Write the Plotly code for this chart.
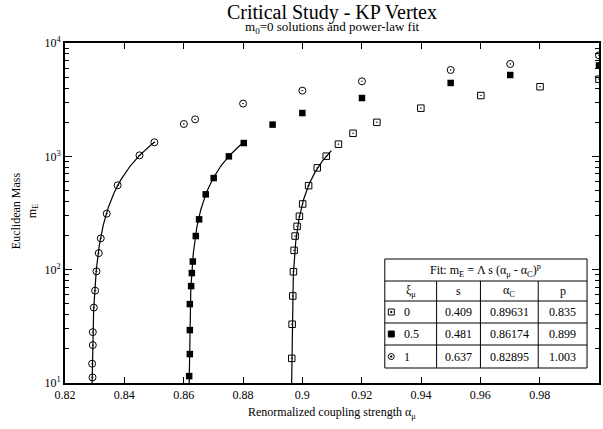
import numpy as np
import plotly.graph_objects as go

# ---------------- data ----------------
xi_labels = ["0", "0.5", "1"]

alpha_xi0 = [0.89643, 0.89656, 0.89677, 0.89700, 0.89723, 0.89757, 0.89824, 0.89901,
             0.90011, 0.90212, 0.90503, 0.90805, 0.91217, 0.91709, 0.92512, 0.93995,
             0.96017, 0.98013, 1.0]
mass_xi0 = [16.5, 33, 58.6, 95.9, 148, 198, 241, 296, 380, 551, 791, 1003,
            1280, 1597, 1995, 2660, 3440, 4110, 4790]

alpha_xi05 = [0.86185, 0.86208, 0.86208, 0.86208, 0.86252, 0.86275, 0.86309, 0.86409,
              0.86520, 0.86744, 0.87012, 0.87524, 0.88026, 0.88997, 0.90001, 0.92010,
              0.95000, 0.97008, 1.0]
mass_xi05 = [11.5, 18.0, 29.3, 49.7, 71.6, 93.3, 118, 198, 278, 462, 643, 1000,
             1310, 1905, 2410, 3270, 4440, 5220, 6350]

alpha_xi1 = [0.82927, 0.82914, 0.82937, 0.82937, 0.82971, 0.83014, 0.83061, 0.83138,
             0.83205, 0.83406, 0.83774, 0.84511, 0.85013, 0.86007, 0.86386, 0.88003,
             0.90001, 0.92010, 0.95000, 0.97008, 1.0]
mass_xi1 = [11.2, 14.8, 21.6, 28.1, 46.3, 65.3, 96.6, 140, 189, 312, 555, 1020,
            1330, 1930, 2120, 2920, 3800, 4590, 5780, 6530, 7780]

# power-law fit parameters (from the table): m_E = Lambda * s * (alpha - alpha_C)^p
Lambda = 1.0e5
fit_s = [0.409, 0.481, 0.637]
fit_alphaC = [0.89631, 0.86174, 0.82895]
fit_p = [0.835, 0.899, 1.003]
fit_alpha_end = [0.9098, 0.8803, 0.8502]

x_tick_vals = [0.82, 0.84, 0.86, 0.88, 0.90, 0.92, 0.94, 0.96, 0.98]
x_tick_text = ["0.82", "0.84", "0.86", "0.88", "0.9", "0.92", "0.94", "0.96", "0.98"]
y_tick_vals = [10, 100, 1000, 10000]
y_tick_text = ["10<sup>1</sup>", "10<sup>2</sup>", "10<sup>3</sup>", "10<sup>4</sup>"]

# ---------------- layout constants ----------------
W, H = 603, 429
L, R, T, B = 65, 2, 43, 46
PW, PH = W - L - R, H - T - B
FONT = "Liberation Serif"


def px_x(px):
    return (px - L) / PW


def px_y(py):
    return (H - B - py) / PH


fig = go.Figure()

# fit curves
for s, ac, p, aend in zip(fit_s, fit_alphaC, fit_p, fit_alpha_end):
    d_min = (8.0 / (Lambda * s)) ** (1.0 / p)
    d = np.geomspace(d_min, aend - ac, 300)
    a = ac + d
    m = Lambda * s * d ** p
    fig.add_trace(go.Scatter(x=a, y=m, mode="lines",
                             line=dict(color="black", width=1.2),
                             showlegend=False, hoverinfo="skip"))

MS = 6.5
fig.add_trace(go.Scatter(x=alpha_xi0, y=mass_xi0, mode="markers",
                         marker=dict(symbol="square-open-dot", size=MS, color="black",
                                     line=dict(color="black", width=1)),
                         showlegend=False))
fig.add_trace(go.Scatter(x=alpha_xi05, y=mass_xi05, mode="markers",
                         marker=dict(symbol="square", size=MS, color="black",
                                     line=dict(color="black", width=0)),
                         showlegend=False))
fig.add_trace(go.Scatter(x=alpha_xi1, y=mass_xi1, mode="markers",
                         marker=dict(symbol="circle-open-dot", size=MS + 0.5, color="black",
                                     line=dict(color="black", width=1)),
                         showlegend=False))

# ---------------- table (legend) ----------------
cols = [386, 438, 482, 540, 589]
rows = [259, 281, 301, 323, 345, 368]
shapes = []
shapes.append(dict(type="rect", xref="paper", yref="paper",
                   x0=px_x(cols[0]), x1=px_x(cols[-1]), y0=px_y(rows[-1]), y1=px_y(rows[0]),
                   fillcolor="white", line=dict(color="black", width=1), layer="above"))
for r in rows[1:-1]:
    shapes.append(dict(type="line", xref="paper", yref="paper",
                       x0=px_x(cols[0]), x1=px_x(cols[-1]), y0=px_y(r), y1=px_y(r),
                       line=dict(color="black", width=1), layer="above"))
for c in cols[1:-1]:
    shapes.append(dict(type="line", xref="paper", yref="paper",
                       x0=px_x(c), x1=px_x(c), y0=px_y(rows[-1]), y1=px_y(rows[1]),
                       line=dict(color="black", width=1), layer="above"))

annotations = []


def cell_text(txt, cx, cy, size=12, xanchor="center"):
    annotations.append(dict(text=txt, x=px_x(cx), y=px_y(cy), xref="paper", yref="paper",
                            showarrow=False, xanchor=xanchor, yanchor="middle",
                            font=dict(family=FONT, size=size, color="black")))


cell_text("Fit: m<sub>E</sub> = Λ s (α<sub>μ</sub> - α<sub>C</sub>)<sup>p</sup>",
          (cols[0] + cols[-1]) / 2, (rows[0] + rows[1]) / 2)
headers = ["ξ<sub>μ</sub>", "s", "α<sub>C</sub>", "p"]
for i, h in enumerate(headers):
    cell_text(h, (cols[i] + cols[i + 1]) / 2, (rows[1] + rows[2]) / 2)

table_rows = [
    (xi_labels[0], fit_s[0], fit_alphaC[0], fit_p[0]),
    (xi_labels[1], fit_s[1], fit_alphaC[1], fit_p[1]),
    (xi_labels[2], fit_s[2], fit_alphaC[2], fit_p[2]),
]
for k, (xl, s, ac, p) in enumerate(table_rows):
    cy = (rows[k + 2] + rows[k + 3]) / 2
    cell_text(xl, cols[0] + 17, cy, xanchor="left")
    cell_text(f"{s:.3f}", (cols[1] + cols[2]) / 2, cy)
    cell_text(f"{ac:.5f}", (cols[2] + cols[3]) / 2, cy)
    cell_text(f"{p:.3f}", (cols[3] + cols[4]) / 2, cy)
    mx, hs = cols[0] + 6.5, 3
    if k == 0:
        shapes.append(dict(type="rect", xref="paper", yref="paper",
                           x0=px_x(mx - hs), x1=px_x(mx + hs), y0=px_y(cy + hs), y1=px_y(cy - hs),
                           line=dict(color="black", width=1), fillcolor="white", layer="above"))
        shapes.append(dict(type="rect", xref="paper", yref="paper",
                           x0=px_x(mx - 0.6), x1=px_x(mx + 0.6), y0=px_y(cy + 0.6), y1=px_y(cy - 0.6),
                           line=dict(color="black", width=1), fillcolor="black", layer="above"))
    elif k == 1:
        shapes.append(dict(type="rect", xref="paper", yref="paper",
                           x0=px_x(mx - hs), x1=px_x(mx + hs), y0=px_y(cy + hs), y1=px_y(cy - hs),
                           line=dict(color="black", width=1), fillcolor="black", layer="above"))
    else:
        shapes.append(dict(type="circle", xref="paper", yref="paper",
                           x0=px_x(mx - hs), x1=px_x(mx + hs), y0=px_y(cy + hs), y1=px_y(cy - hs),
                           line=dict(color="black", width=1), fillcolor="white", layer="above"))
        shapes.append(dict(type="rect", xref="paper", yref="paper",
                           x0=px_x(mx - 0.6), x1=px_x(mx + 0.6), y0=px_y(cy + 0.6), y1=px_y(cy - 0.6),
                           line=dict(color="black", width=1), fillcolor="black", layer="above"))

# titles
annotations.append(dict(text="Critical Study - KP Vertex", x=px_x(333), y=px_y(12.5),
                        xref="paper", yref="paper", showarrow=False, yanchor="middle",
                        font=dict(family=FONT, size=20, color="black")))
annotations.append(dict(text="m<sub>0</sub>=0 solutions and power-law fit", x=px_x(333), y=px_y(28),
                        xref="paper", yref="paper", showarrow=False, yanchor="middle",
                        font=dict(family=FONT, size=13, color="black")))
annotations.append(dict(text="Renormalized coupling strength α<sub>μ</sub>", x=px_x(333), y=px_y(413),
                        xref="paper", yref="paper", showarrow=False, yanchor="middle",
                        font=dict(family=FONT, size=12, color="black")))
annotations.append(dict(text="Euclidean Mass<br>m<sub>E</sub>", x=px_x(24), y=px_y(211),
                        xref="paper", yref="paper", showarrow=False, textangle=-90,
                        xanchor="center", yanchor="middle",
                        font=dict(family=FONT, size=12, color="black")))

minor_vals = [k * 10 ** e for e in range(1, 4) for k in range(2, 10)]

fig.update_layout(
    width=W, height=H,
    margin=dict(l=L, r=R, t=T, b=B, pad=0),
    paper_bgcolor="white", plot_bgcolor="white",
    font=dict(family=FONT, size=12, color="black"),
    shapes=shapes, annotations=annotations,
    xaxis=dict(range=[0.82, 1.0], tickmode="array", tickvals=x_tick_vals, ticktext=x_tick_text,
               ticks="inside", ticklen=6, tickwidth=1, tickcolor="black",
               showline=True, linecolor="black", linewidth=2, mirror="ticks",
               showgrid=False, zeroline=False, tickfont=dict(family=FONT, size=12)),
    yaxis=dict(type="log", range=[1, 4], tickmode="array", tickvals=y_tick_vals, ticktext=y_tick_text,
               ticks="inside", ticklen=7, tickwidth=1, tickcolor="black",
               showline=True, linecolor="black", linewidth=2, mirror="allticks",
               showgrid=False, zeroline=False, tickfont=dict(family=FONT, size=12),
               minor=dict(tickmode="array", tickvals=minor_vals, ticks="inside", ticklen=4,
                          tickwidth=1, tickcolor="black", showgrid=False)),
)

fig.write_html("out.html")
